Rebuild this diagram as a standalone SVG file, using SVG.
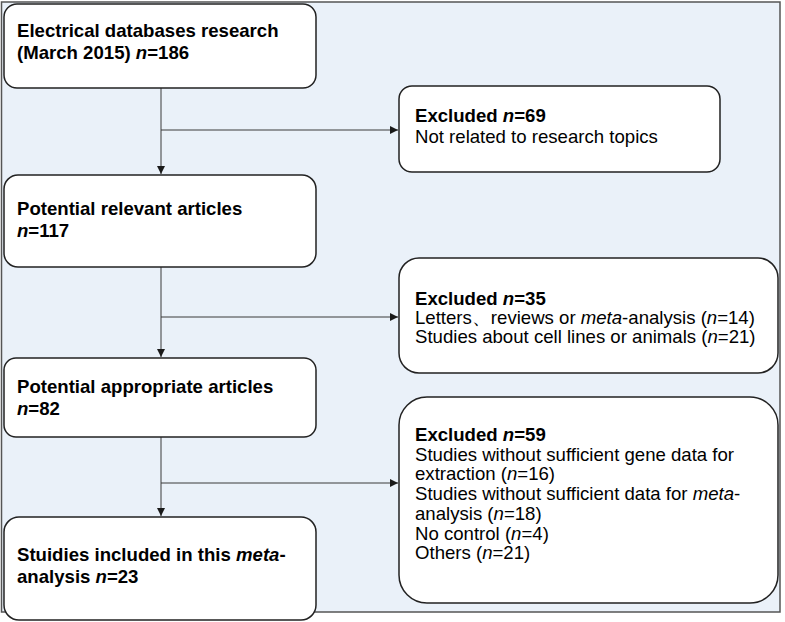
<svg xmlns="http://www.w3.org/2000/svg" width="785" height="622" viewBox="0 0 785 622">
<defs>
<marker id="arr" viewBox="0 0 10 10" refX="10" refY="5" markerWidth="8" markerHeight="8" markerUnits="userSpaceOnUse" orient="auto">
<path d="M0,0 L10,5 L0,10 z" fill="#1a1a1a"/>
</marker>
<style>
.box{fill:#ffffff;stroke:#222222;stroke-width:1.5}
.conn{fill:none;stroke:#3a3a3a;stroke-width:1}
text{font-family:"Liberation Sans",Arial,sans-serif;font-size:18.6px;fill:#000000}
.b{font-weight:bold}
.i{font-style:italic}
</style>
</defs>
<rect x="0" y="0" width="785" height="622" fill="#ffffff"/>
<rect x="1.5" y="2" width="778.5" height="610" fill="#eaf1f9" stroke="#555555" stroke-width="1.5"/>

<g id="connectors">
<line class="conn" x1="161" y1="88" x2="161" y2="174" marker-end="url(#arr)"/>
<line class="conn" x1="161" y1="130" x2="398" y2="130" marker-end="url(#arr)"/>
<line class="conn" x1="161" y1="267" x2="161" y2="357" marker-end="url(#arr)"/>
<line class="conn" x1="161" y1="317" x2="398" y2="317" marker-end="url(#arr)"/>
<line class="conn" x1="161" y1="437" x2="161" y2="516" marker-end="url(#arr)"/>
<line class="conn" x1="161" y1="483" x2="398" y2="483" marker-end="url(#arr)"/>
</g>

<g id="n1">
<rect class="box" x="4" y="4" width="312" height="84" rx="13"/>
<text class="b" x="17" y="37">Electrical databases research</text>
<text class="b" x="17" y="59">(March 2015) <tspan class="i">n</tspan>=186</text>
</g>

<g id="n2">
<rect class="box" x="399" y="86" width="321" height="86" rx="13"/>
<text x="415" y="122"><tspan class="b">Excluded <tspan class="i">n</tspan>=69</tspan></text>
<text x="415" y="143">Not related to research topics</text>
</g>

<g id="n3">
<rect class="box" x="4" y="175" width="312" height="92" rx="14"/>
<text class="b" x="17" y="215">Potential relevant articles</text>
<text class="b" x="17" y="237"><tspan class="i">n</tspan>=117</text>
</g>

<g id="n4">
<rect class="box" x="399" y="258" width="379" height="115" rx="20"/>
<text x="415" y="305"><tspan class="b">Excluded <tspan class="i">n</tspan>=35</tspan></text>
<text x="415" y="324">Letters、reviews or <tspan class="i">meta</tspan>-analysis (<tspan class="i">n</tspan>=14)</text>
<text x="415" y="343">Studies about cell lines or animals (<tspan class="i">n</tspan>=21)</text>
</g>

<g id="n5">
<rect class="box" x="4" y="358" width="312" height="79" rx="12"/>
<text class="b" x="17" y="393">Potential appropriate articles</text>
<text class="b" x="17" y="415"><tspan class="i">n</tspan>=82</text>
</g>

<g id="n6">
<rect class="box" x="399" y="397" width="379" height="206" rx="28"/>
<text x="415" y="441"><tspan class="b">Excluded <tspan class="i">n</tspan>=59</tspan></text>
<text x="415" y="461">Studies without sufficient gene data for</text>
<text x="415" y="480">extraction (<tspan class="i">n</tspan>=16)</text>
<text x="415" y="500">Studies without sufficient data for <tspan class="i">meta</tspan>-</text>
<text x="415" y="520">analysis (<tspan class="i">n</tspan>=18)</text>
<text x="415" y="540">No control (<tspan class="i">n</tspan>=4)</text>
<text x="415" y="559">Others (<tspan class="i">n</tspan>=21)</text>
</g>

<g id="n7">
<rect class="box" x="4" y="517" width="312" height="103" rx="15"/>
<text class="b" x="17" y="561">Stuidies included in this <tspan class="i">meta</tspan>-</text>
<text class="b" x="17" y="583">analysis <tspan class="i">n</tspan>=23</text>
</g>
</svg>
